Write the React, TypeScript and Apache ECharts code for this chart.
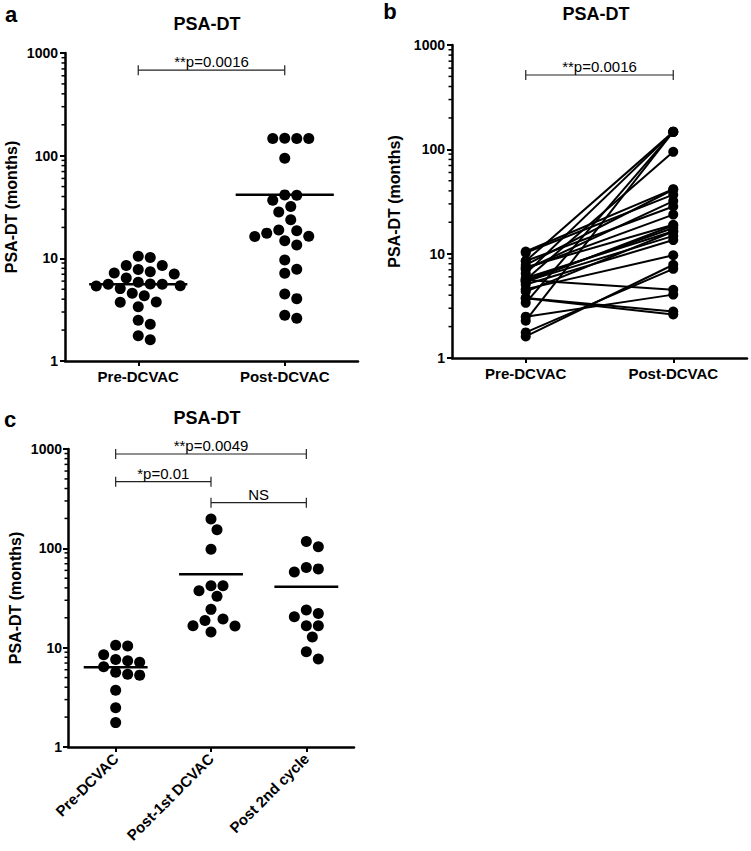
import React, { useEffect, useRef } from "react";
import * as echarts from "echarts";

// ---------- data ----------
const groupsAB = ["Pre-DCVAC", "Post-DCVAC"];
const groupsC = ["Pre-DCVAC", "Post-1st DCVAC", "Post 2nd cycle"];

// Panel a (and b): PSA-DT in months
const preA = [10.5, 10.2, 8.5, 8.5, 7.8, 7.4, 7.2, 7.05, 6.44, 5.85, 5.63, 5.6, 5.6, 5.42, 5.38, 5.07, 4.57, 4.33, 3.76, 3.73, 3.38, 2.49, 2.28, 1.76, 1.61];
const postA = [148, 147, 147, 147, 94.6, 41.5, 41.2, 36.8, 31.9, 28.3, 23.7, 18.9, 18.6, 17.6, 16.4, 16.3, 14.8, 13.5, 9.65, 7.83, 7.16, 4.5, 4.05, 2.79, 2.61];
// Panel b: post values in the same patient order as preA
const postPairedB = [41.5, 36.8, 147, 28.3, 41.2, 18.9, 23.7, 31.9, 147, 16.4, 94.6, 17.6, 4.5, 14.8, 18.6, 13.5, 9.65, 16.3, 2.79, 2.61, 147, 4.05, 148, 7.16, 7.83];

// Panel c
const preC = [10.6, 10.4, 8.48, 7.61, 7.15, 7.38, 6.42, 5.41, 5.29, 5.67, 3.73, 2.49, 1.76];
const post1C = [197, 154, 98, 42.1, 42.1, 37.5, 32.9, 24.3, 19.4, 18.8, 16.6, 16.5, 14.4];
const post2C = [117, 104, 62.1, 64, 57.9, 23.9, 22.1, 20.5, 16.6, 16.6, 12.8, 9.1, 7.67];

const pLabelsA = ["**p=0.0016"];
const pLabelsB = ["**p=0.0016"];
const pLabelsC = ["**p=0.0049", "*p=0.01", "NS"];
// bracket: [from category, to category, height value]
const bracketsA = [[0, 1, 680]];
const bracketsB = [[0, 1, 516]];
const bracketsC = [[0, 2, 891], [0, 1, 469], [1, 2, 288]];

const yMin = 1;
const yMax = 1000;

// ---------- layout ----------
const FONT = "'Liberation Sans', Arial, Helvetica, sans-serif";
const GA = { left: 65, top: 53, width: 293, height: 308 };
const GB = { left: 452, top: 45, width: 295, height: 313 };
const GC = { left: 68, top: 449, width: 286, height: 298 };
const DOT = 11;
const SPACING = 12;

function swarmOffsets(values: number[], d: number, pxPerDecade: number): number[] {
  const order = values.map((_, i) => i).sort((a, b) => values[b] - values[a]);
  const placed: { x: number; y: number }[] = [];
  const out = new Array(values.length).fill(0);
  for (const i of order) {
    const y = Math.log10(values[i]) * pxPerDecade;
    for (let k = 0; k < 400; k++) {
      const step = k === 0 ? 0 : k % 2 === 1 ? Math.ceil(k / 2) : -Math.ceil(k / 2);
      const x = (step * d) / 2;
      if (placed.every((p) => (p.x - x) ** 2 + (p.y - y) ** 2 >= d * d * 0.97)) {
        placed.push({ x, y });
        out[i] = x;
        break;
      }
    }
  }
  return out;
}

function swarmData(values: number[], idx: number, grid: { width: number; height: number }, n: number) {
  const band = grid.width / n;
  const ppd = grid.height / Math.log10(yMax / yMin);
  const offs = swarmOffsets(values, SPACING, ppd);
  return values.map((v, i) => [idx + offs[i] / band, v]);
}

const mean = (a: number[]) => a.reduce((s, v) => s + v, 0) / a.length;

const minorTickValues: number[] = [];
for (let d = 1; d < yMax; d *= 10) for (let k = 2; k <= 9; k++) minorTickValues.push(k * d);

function catAxis(gridIndex: number, data: string[], rotate = 0) {
  return {
    gridIndex,
    type: "category",
    data,
    boundaryGap: true,
    axisLine: { show: true, lineStyle: { color: "#000", width: 2.5 } },
    axisTick: { show: true, alignWithLabel: true, length: 5, lineStyle: { color: "#000", width: 2 } },
    axisLabel: {
      color: "#000",
      fontFamily: FONT,
      fontWeight: "bold",
      fontSize: 15,
      margin: rotate ? 9 : 8,
      rotate,
      interval: 0,
    },
    splitLine: { show: false },
  };
}

function hiddenValueAxis(gridIndex: number, n: number) {
  return { gridIndex, type: "value", min: -0.5, max: n - 0.5, show: false };
}

function logAxis(gridIndex: number, nameGap: number, margin: number) {
  return {
    gridIndex,
    type: "log",
    logBase: 10,
    min: yMin,
    max: yMax,
    name: "PSA-DT (months)",
    nameLocation: "middle",
    nameGap,
    nameTextStyle: { color: "#000", fontFamily: FONT, fontWeight: "bold", fontSize: 16 },
    axisLine: { show: true, onZero: false, lineStyle: { color: "#000", width: 2.5 } },
    axisTick: { show: true, length: 5, lineStyle: { color: "#000", width: 2 } },
    axisLabel: {
      color: "#000",
      fontFamily: FONT,
      fontWeight: "bold",
      fontSize: 14,
      margin,
      formatter: (v: number) => String(Math.round(v)),
    },
    splitLine: { show: false },
  };
}

function scatterSeries(xi: number, yi: number, data: number[][]) {
  return {
    type: "scatter",
    xAxisIndex: xi,
    yAxisIndex: yi,
    data,
    symbol: "circle",
    symbolSize: DOT,
    itemStyle: { color: "#000", opacity: 1 },
    z: 3,
  };
}

function meanSeries(xi: number, yi: number, means: number[]) {
  return {
    type: "custom",
    xAxisIndex: xi,
    yAxisIndex: yi,
    data: means.map((m, i) => [i, m]),
    renderItem: (_p: any, api: any) => {
      const x = api.value(0);
      const y = api.value(1);
      const a = api.coord([x - 0.335, y]);
      const b = api.coord([x + 0.335, y]);
      return {
        type: "line",
        shape: { x1: a[0], y1: a[1], x2: b[0], y2: b[1] },
        style: { stroke: "#000", lineWidth: 2.5 },
      };
    },
    z: 4,
  };
}

function bracketSeries(xi: number, yi: number, brackets: number[][], labels: string[]) {
  return {
    type: "custom",
    xAxisIndex: xi,
    yAxisIndex: yi,
    data: brackets,
    renderItem: (params: any, api: any) => {
      const p1 = api.coord([api.value(0), api.value(2)]);
      const p2 = api.coord([api.value(1), api.value(2)]);
      const st = { stroke: "#222", lineWidth: 1.2 };
      return {
        type: "group",
        children: [
          { type: "line", shape: { x1: p1[0], y1: p1[1], x2: p2[0], y2: p2[1] }, style: st },
          { type: "line", shape: { x1: p1[0], y1: p1[1] - 5, x2: p1[0], y2: p1[1] + 5 }, style: st },
          { type: "line", shape: { x1: p2[0], y1: p2[1] - 5, x2: p2[0], y2: p2[1] + 5 }, style: st },
          {
            type: "text",
            x: (p1[0] + p2[0]) / 2,
            y: p1[1] - 1,
            style: {
              text: labels[params.dataIndex],
              fill: "#000",
              font: `15px ${FONT}`,
              align: "center",
              verticalAlign: "bottom",
            },
          },
        ],
      };
    },
    z: 5,
  };
}

function minorTickSeries(xi: number, yi: number) {
  return {
    type: "custom",
    xAxisIndex: xi,
    yAxisIndex: yi,
    data: minorTickValues.map((v) => [0, v]),
    renderItem: (params: any, api: any) => {
      const y = api.coord([0, api.value(1)])[1];
      const x0 = params.coordSys.x;
      return {
        type: "line",
        shape: { x1: x0 - 3.5, y1: y, x2: x0, y2: y },
        style: { stroke: "#000", lineWidth: 1.5 },
      };
    },
    silent: true,
    z: 2,
  };
}

function pairSeries() {
  return preA.map((pre, i) => ({
    type: "line",
    xAxisIndex: 2,
    yAxisIndex: 1,
    data: [pre, postPairedB[i]],
    symbol: "circle",
    symbolSize: 10,
    showSymbol: true,
    lineStyle: { color: "#000", width: 2 },
    itemStyle: { color: "#000", opacity: 1 },
    z: 3,
  }));
}

function textEl(text: string, x: number, y: number, size: number) {
  return {
    type: "text",
    x,
    y,
    style: {
      text,
      fill: "#000",
      font: `bold ${size}px ${FONT}`,
      align: "center",
      verticalAlign: "middle",
    },
  };
}

export default function App() {
  const ref = useRef<HTMLDivElement>(null);
  useEffect(() => {
    if (!ref.current) return;
    const chart = echarts.init(ref.current, null, { renderer: "svg" });
    const option: any = {
      animation: false,
      backgroundColor: "#fff",
      grid: [
        { ...GA, containLabel: false },
        { ...GB, containLabel: false },
        { ...GC, containLabel: false },
      ],
      xAxis: [
        catAxis(0, groupsAB),
        hiddenValueAxis(0, 2),
        catAxis(1, groupsAB),
        catAxis(2, groupsC, 45),
        hiddenValueAxis(2, 3),
      ],
      yAxis: [logAxis(0, 46, 7), logAxis(1, 50, 7), logAxis(2, 45, 6)],
      series: [
        scatterSeries(1, 0, swarmData(preA, 0, GA, 2)),
        scatterSeries(1, 0, swarmData(postA, 1, GA, 2)),
        meanSeries(1, 0, [mean(preA), mean(postA)]),
        bracketSeries(1, 0, bracketsA, pLabelsA),
        minorTickSeries(1, 0),
        ...pairSeries(),
        bracketSeries(2, 1, bracketsB, pLabelsB),
        minorTickSeries(2, 1),
        scatterSeries(4, 2, swarmData(preC, 0, GC, 3)),
        scatterSeries(4, 2, swarmData(post1C, 1, GC, 3)),
        scatterSeries(4, 2, swarmData(post2C, 2, GC, 3)),
        meanSeries(4, 2, [mean(preC), mean(post1C), mean(post2C)]),
        bracketSeries(4, 2, bracketsC, pLabelsC),
        minorTickSeries(4, 2),
      ],
      graphic: [
        textEl("a", 11, 14, 22),
        textEl("b", 390, 11, 22),
        textEl("c", 10, 419, 22),
        textEl("PSA-DT", 207, 24, 18),
        textEl("PSA-DT", 596, 14, 18),
        textEl("PSA-DT", 207, 418, 18),
      ],
    };
    chart.setOption(option);
    return () => chart.dispose();
  }, []);
  return (
    <div
      ref={ref}
      style={{ position: "absolute", left: 0, top: 0, width: 751, height: 851, background: "#fff" }}
    />
  );
}
